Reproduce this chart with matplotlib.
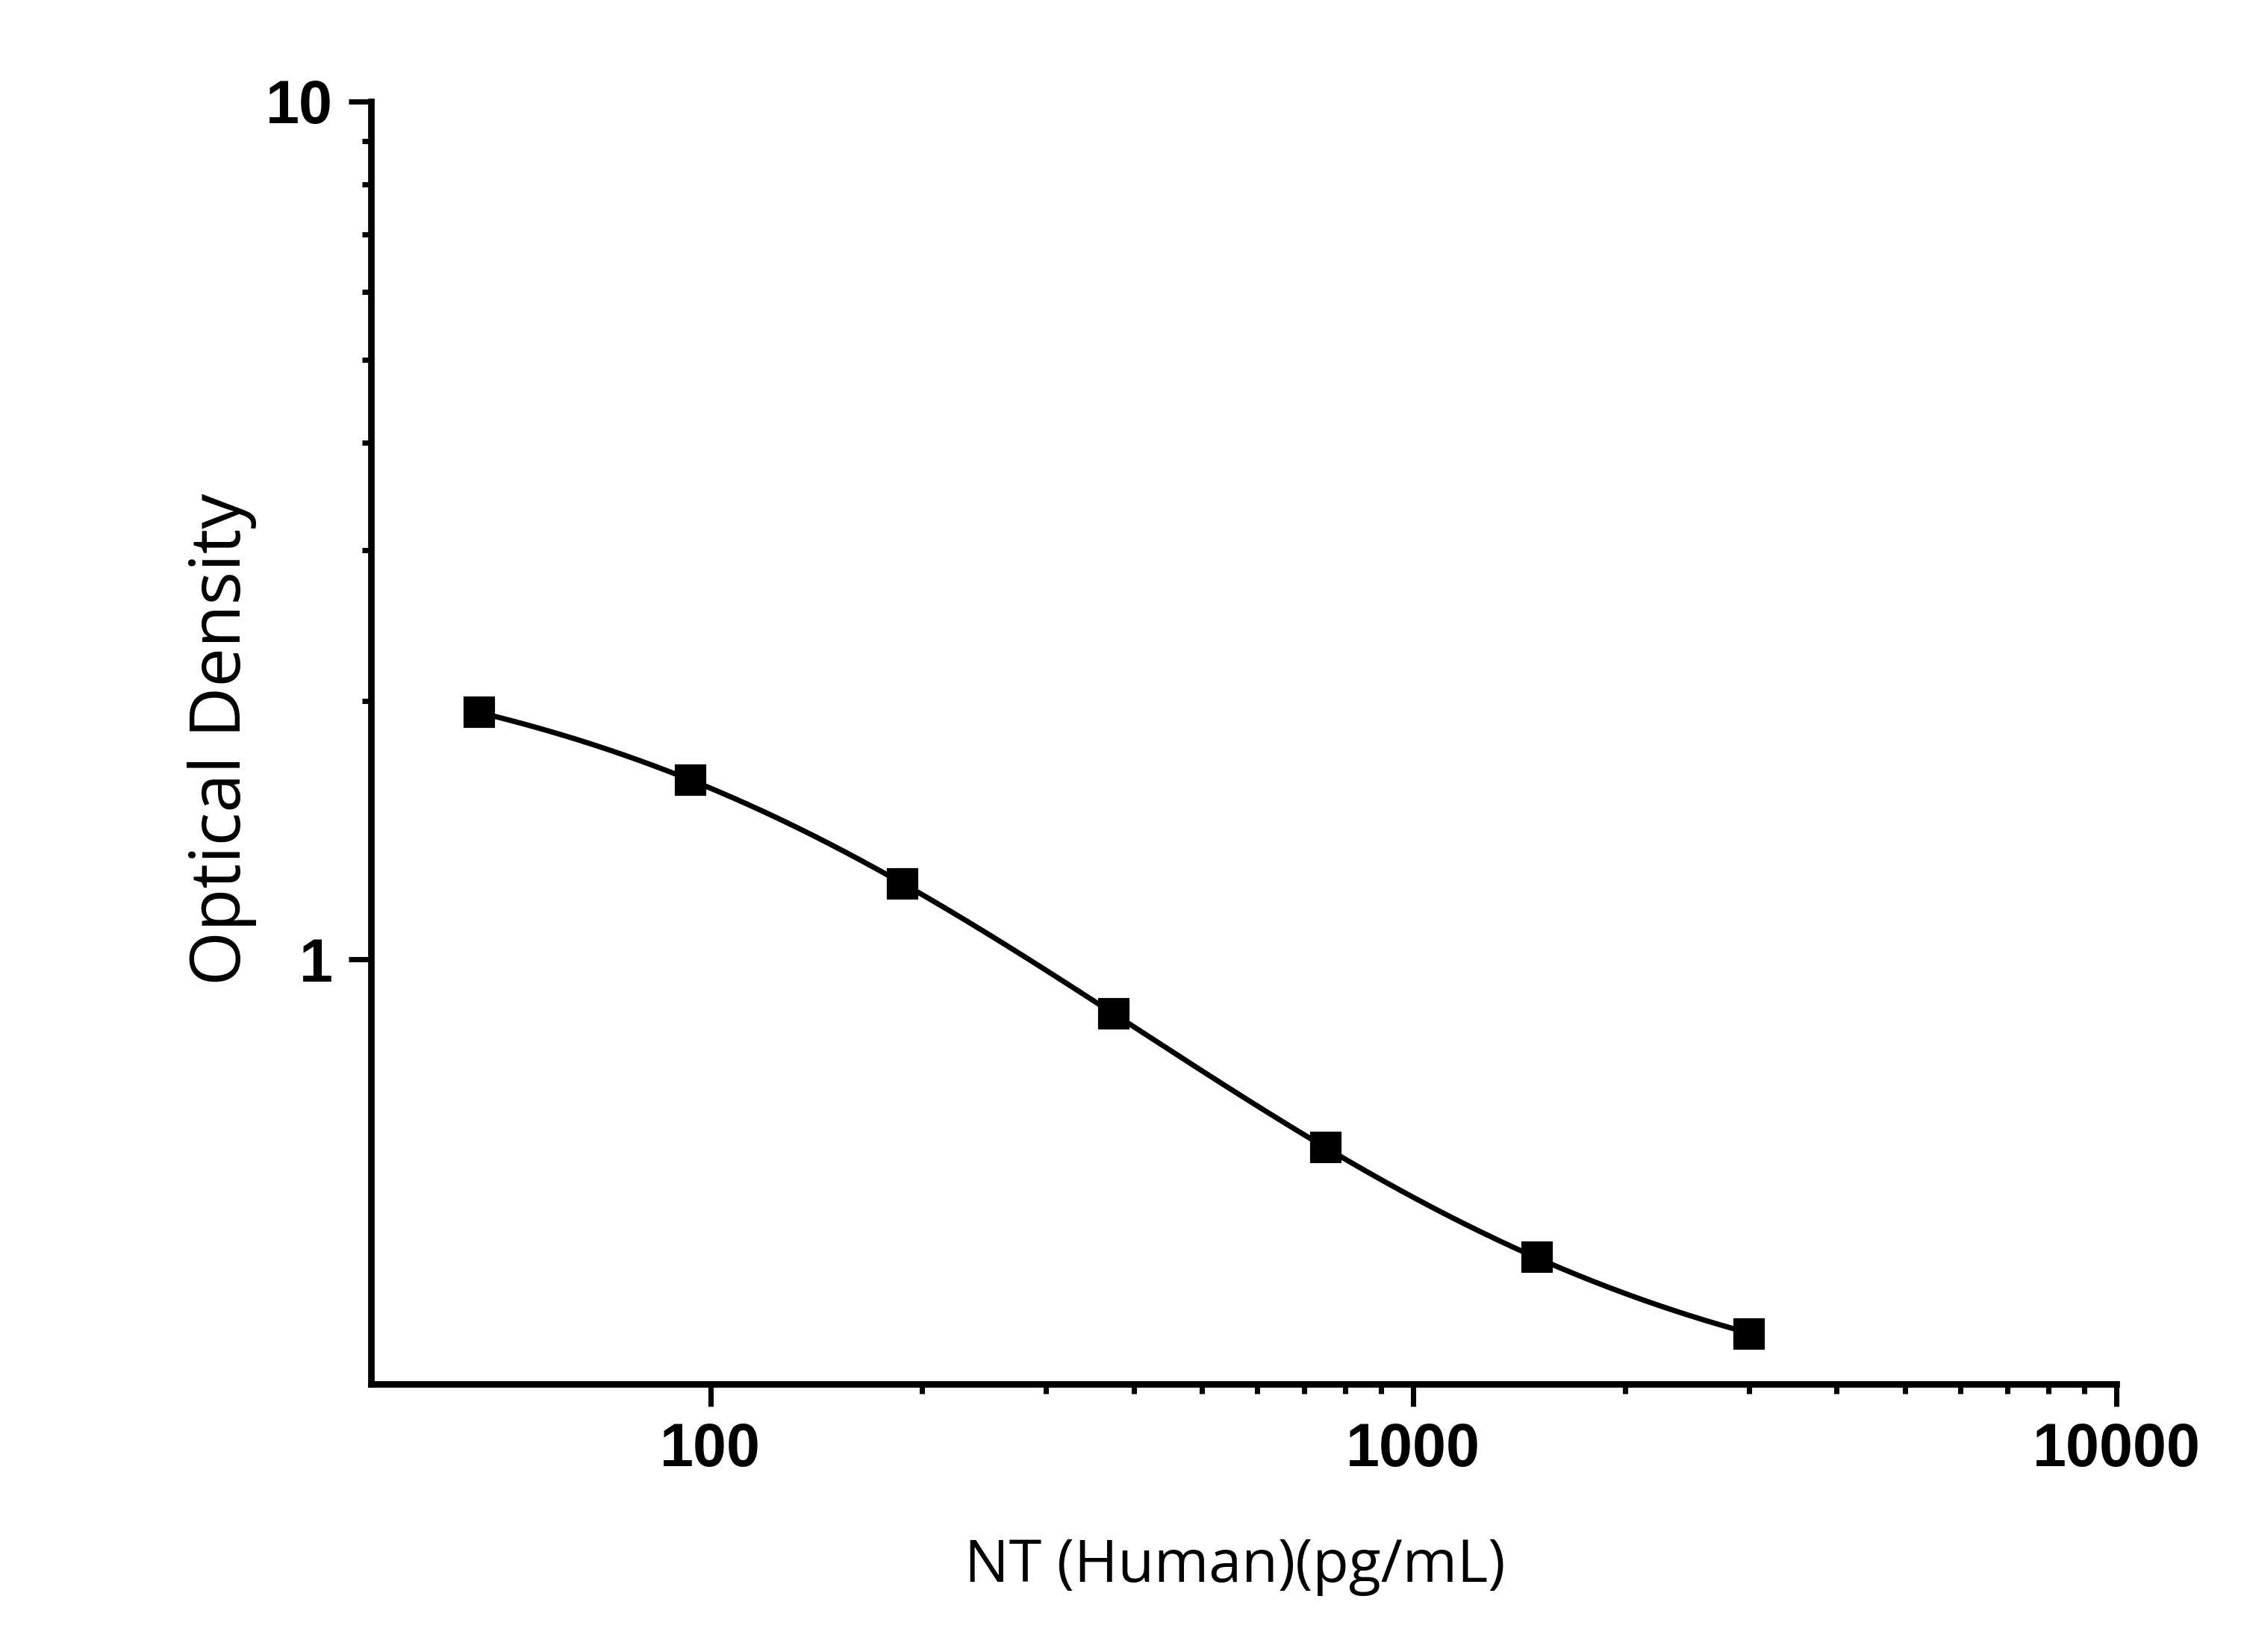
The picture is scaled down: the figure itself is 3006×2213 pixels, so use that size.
import numpy as np
import matplotlib
matplotlib.use("Agg")
import matplotlib.pyplot as plt
from matplotlib.ticker import FixedLocator, FixedFormatter, NullFormatter

plt.rcParams["font.family"] = ["Liberation Sans", "DejaVu Sans"]
plt.rcParams["font.weight"] = "bold"

# ---- data ----
concentration = [46.875, 93.75, 187.5, 375, 750, 1500, 3000]
optical_density = [1.941, 1.618, 1.226, 0.864, 0.604, 0.450, 0.366]

x_major = [100, 1000, 10000]
x_major_labels = ["100", "1000", "10000"]
x_minor = [200, 300, 400, 500, 600, 700, 800, 900,
           2000, 3000, 4000, 5000, 6000, 7000, 8000, 9000]
y_major = [1, 10]
y_major_labels = ["1", "10"]
y_minor = [2, 3, 4, 5, 6, 7, 8, 9]

x_label = "NT (Human)(pg/mL)"
y_label = "Optical Density"

# ---- 4-parameter logistic fit (grid search on b, c; linear LSQ for a, d) ----
xd = np.array(concentration, dtype=float)
yd = np.array(optical_density, dtype=float)
best = None
for logc in np.linspace(0.5, 5.5, 501):
    c = 10 ** logc
    for b in np.linspace(0.1, 3.0, 291):
        g = 1.0 / (1.0 + (xd / c) ** b)
        A = np.column_stack([g, 1 - g])
        coef, *_ = np.linalg.lstsq(A, yd, rcond=None)
        r = np.sum((A @ coef - yd) ** 2)
        if best is None or r < best[0]:
            best = (r, coef[0], coef[1], b, c)
_, a_fit, d_fit, b_fit, c_fit = best
xs = np.logspace(np.log10(xd.min()), np.log10(xd.max()), 400)
ys = d_fit + (a_fit - d_fit) / (1.0 + (xs / c_fit) ** b_fit)

# ---- figure ----
W, H = 3006, 2213
dpi = 300
fig = plt.figure(figsize=(W / dpi, H / dpi), dpi=dpi)
ax = fig.add_axes([497 / W, 1 - 1854 / H, (2835 - 497) / W, (1854 - 136) / H])

ax.plot(xs, ys, color="black", lw=1.7, zorder=2)
ax.plot(concentration, optical_density, ls="none", marker="s", ms=9.0,
        color="black", zorder=3)

ax.set_xscale("log")
ax.set_yscale("log")
ax.set_xlim(32.9, 10000)
ax.set_ylim(0.32, 10)

for s in ["top", "right"]:
    ax.spines[s].set_visible(False)
for s in ["left", "bottom"]:
    ax.spines[s].set_linewidth(2.1)

ax.xaxis.set_major_locator(FixedLocator(x_major))
ax.xaxis.set_major_formatter(FixedFormatter(x_major_labels))
ax.xaxis.set_minor_locator(FixedLocator(x_minor))
ax.xaxis.set_minor_formatter(NullFormatter())
ax.yaxis.set_major_locator(FixedLocator(y_major))
ax.yaxis.set_major_formatter(FixedFormatter(y_major_labels))
ax.yaxis.set_minor_locator(FixedLocator(y_minor))
ax.yaxis.set_minor_formatter(NullFormatter())

ax.tick_params(which="major", direction="out", length=7.2, width=1.7,
               labelsize=19.4, pad=5)
ax.tick_params(which="minor", direction="out", length=3.0, width=1.7)

fig.text(1654 / W, 1 - 2119 / H, x_label, ha="center", va="baseline",
         fontsize=19.0, family="Open Sans", fontweight="normal")
fig.text(322 / W, 1 - 990 / H, y_label, ha="center", va="baseline",
         rotation=90, rotation_mode="anchor", fontsize=22.5,
         family="Open Sans", fontweight="normal")

fig.savefig("out.png", dpi=dpi)
